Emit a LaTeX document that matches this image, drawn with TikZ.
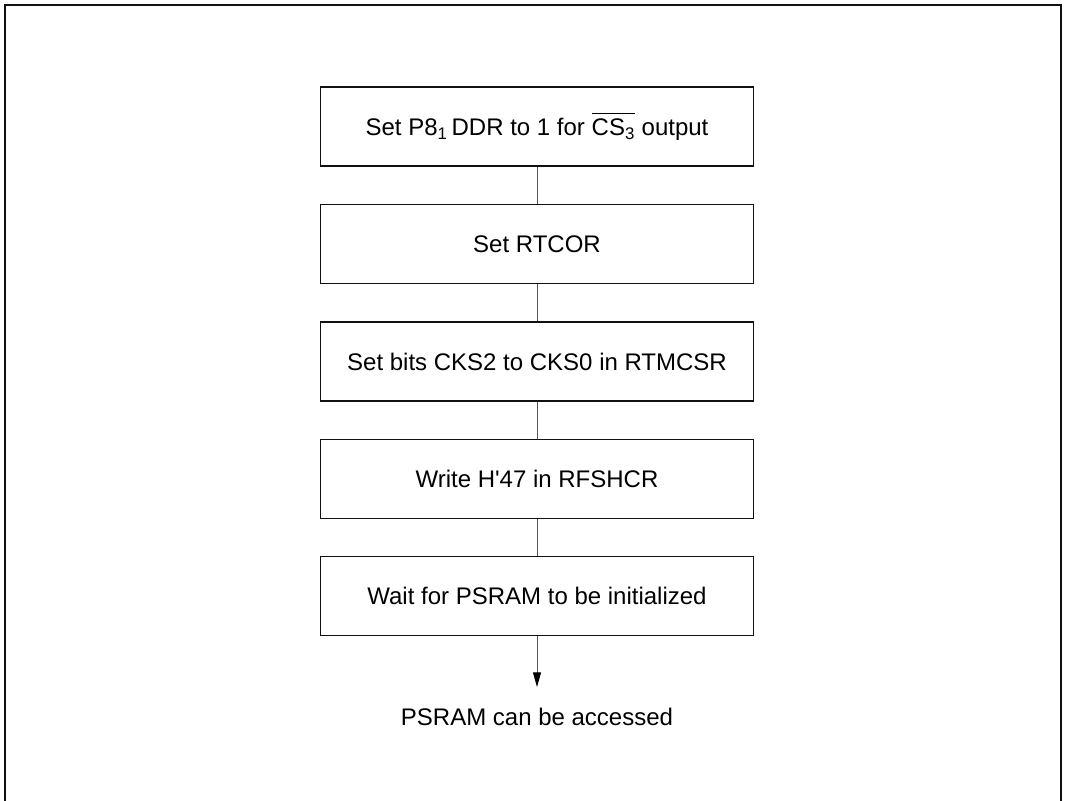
\documentclass[tikz,border=0pt]{standalone}
\usepackage{fontspec}
\setmainfont{Liberation Sans}
\usetikzlibrary{arrows.meta,positioning}
\definecolor{frame}{HTML}{111111}
\definecolor{link}{HTML}{555555}

\begin{document}
\begin{tikzpicture}[
  x=0.75pt, y=-0.75pt,
  line cap=butt, line join=miter,
  every node/.style={font=\fontsize{18}{21}\selectfont, inner sep=2pt},
  stepbox/.style={draw=frame, line width=0.8pt, minimum width=324.75pt, minimum height=59.25pt},
  link/.style={draw=link, line width=0.75pt},
  outer/.style={draw=frame, line width=1.3pt},
]
\useasboundingbox (0,0) rectangle (1067,800);
\draw[outer] (5,812) -- (5,5) -- (1061,5) -- (1061,812);
\node[stepbox] (ddr) at (537,126.5) {Set P8\textsubscript{1}\,DDR to 1 for $\overline{\hbox{\vphantom{\"A}CS\textsubscript{3}}}$ output};
\node[stepbox] (rtcor) at (537,244) {Set RTCOR};
\node[stepbox] (cks) at (537,361.5) {Set bits CKS2 to CKS0 in RTMCSR};
\node[stepbox] (rfsh) at (537,479) {Write H\textquotesingle 47 in RFSHCR};
\node[stepbox] (wait) at (537,596) {Wait for PSRAM to be initialized};
\coordinate (tip) at (537,687);
\node (done) at (537,717) {PSRAM can be accessed};
\draw[link] (ddr) -- (rtcor);
\draw[link] (rtcor) -- (cks);
\draw[link] (cks) -- (rfsh);
\draw[link] (rfsh) -- (wait);
\draw[link, -{Triangle[length=11pt, width=6pt, color=black]}] (wait) -- (tip);
\end{tikzpicture}
\end{document}
